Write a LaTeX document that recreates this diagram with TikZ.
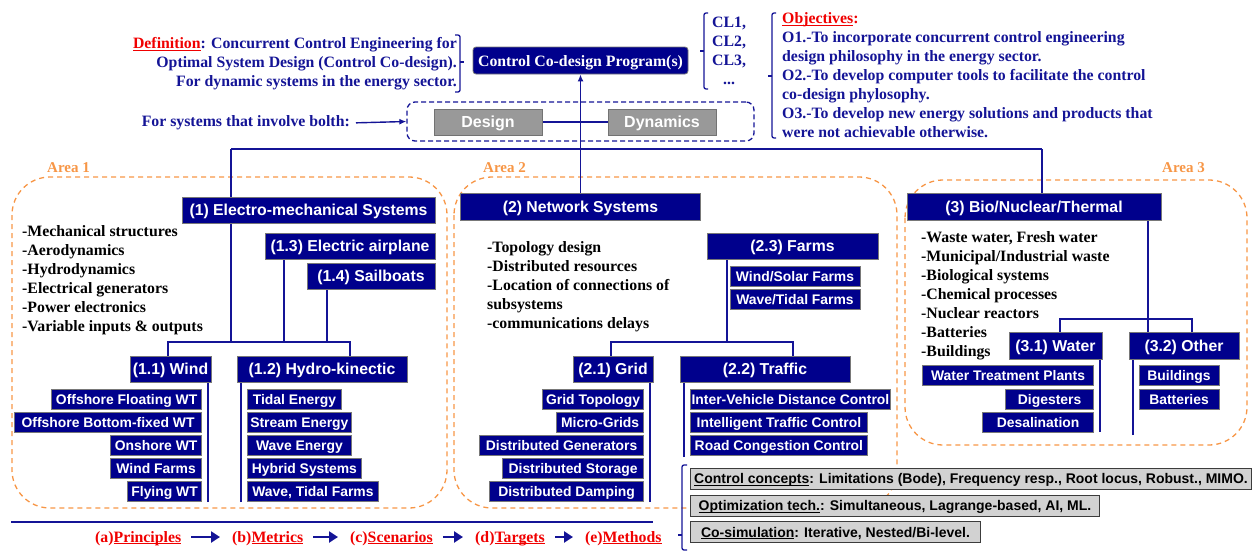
\documentclass[tikz,border=0pt]{standalone}
\usepackage{fontspec}
\setmainfont{Liberation Serif}
\setsansfont{Liberation Sans}
\usetikzlibrary{arrows.meta}
\pgfdeclarelayer{background}
\pgfsetlayers{background,main}

\definecolor{navyfill}{RGB}{0,0,140}
\definecolor{navyline}{RGB}{20,20,150}
\definecolor{areaorange}{RGB}{247,150,70}
\definecolor{defred}{RGB}{240,0,0}
\definecolor{boxedge}{RGB}{120,120,120}
\definecolor{designfill}{RGB}{153,153,153}
\definecolor{designedge}{RGB}{115,115,115}
\definecolor{infofill}{RGB}{210,210,210}
\definecolor{infoedge}{RGB}{60,60,60}

% underline set close to the baseline, crossing descenders
\newcommand{\keyword}[1]{\underline{\smash{#1}}}

\begin{document}
\begin{tikzpicture}[x=1pt,y=-1pt,
  conn/.style={draw=navyline, line width=1.4pt},
  hdr/.style={draw=boxedge, line width=0.8pt, fill=navyfill, text=white,
    font=\sffamily\bfseries\fontsize{15.8}{18}\selectfont, minimum height=26, inner sep=0,
    text height=14.5pt, text depth=3.2pt},
  subbox/.style={draw=boxedge, line width=0.8pt, fill=navyfill, text=white,
    font=\sffamily\bfseries\fontsize{13.9}{16}\selectfont, minimum height=20, inner sep=0,
    text height=12.8pt, text depth=2.8pt},
  area/.style={draw=areaorange, line width=1.3pt, dash pattern=on 5pt off 4pt, rounded corners=38},
  arealabel/.style={text=areaorange, font=\bfseries\fontsize{15}{18}\selectfont, inner sep=0, anchor=west},
  serifnavy/.style={text=navyline, font=\bfseries\fontsize{15.8}{19}\selectfont, inner sep=0},
  listtext/.style={text=black, font=\bfseries\fontsize{15.8}{19}\selectfont, inner sep=0,
    align=left, anchor=north west},
  brace/.style={draw=navyline, line width=1.3pt, rounded corners=2},
  graybox/.style={draw=designedge, line width=0.8pt, fill=designfill, text=white,
    font=\sffamily\bfseries\fontsize{16}{18}\selectfont, minimum height=26, inner sep=0,
    text height=14.7pt, text depth=3.2pt},
  infobox/.style={draw=infoedge, line width=1pt, fill=infofill, text=black,
    font=\sffamily\bfseries\fontsize{14}{16}\selectfont, minimum height=21, inner sep=0, anchor=west,
    text height=12.9pt, text depth=2.8pt},
  flow/.style={draw=navyline, line width=2.6pt, -{Triangle[length=9pt,width=11pt]},
    shorten <=10pt, shorten >=12pt},
  steptext/.style={text=defred, font=\bfseries\fontsize{15.8}{19}\selectfont, inner sep=0, anchor=base west}
]
\useasboundingbox (0,0) rectangle (1255,552);

% ---------- heading ----------
\node[hdr, rounded corners=3, font=\bfseries\fontsize{15.8}{18}\selectfont,
      minimum width=215, minimum height=27] (prog) at (580.5,60.5) {Control Co-design Program(s)};

\node[serifnavy, align=right, anchor=north east] (defn) at (457,37)
  {\textcolor{defred}{\keyword{Definition}}: Concurrent Control Engineering for\\
   Optimal System Design (Control Co-design).\\
   For dynamic systems in the energy sector.};
\draw[brace] (455,35) -- (460,35) -- (460,92) -- (455,92);
\draw[brace] (460,62) -- (464,62);

\node[serifnavy, align=center, anchor=north west] (cl) at (712,17) {CL1,\\CL2,\\CL3,\\...};
\draw[brace] (708,13) -- (704,13) -- (704,89) -- (708,89);
\draw[brace] (704,51) -- (700,51);

\node[serifnavy, align=left, anchor=north west] (obj) at (782,16)
  {\textcolor{defred}{\keyword{Objectives}:}\\
   O1.-To incorporate concurrent control engineering\\
   design philosophy in the energy sector.\\
   O2.-To develop computer tools to facilitate the control\\
   co-design phylosophy.\\
   O3.-To develop new energy solutions and products that\\
   were not achievable otherwise.};
\draw[brace] (776,13) -- (772,13) -- (772,138) -- (776,138);
\draw[brace] (772,76) -- (768,76);

% ---------- design & dynamics ----------
\node[draw=navyline, line width=1.3pt, dash pattern=on 5pt off 3pt, rounded corners=8,
      minimum width=347, minimum height=39, inner sep=0] (both) at (580.5,121.5) {};
\node[graybox, minimum width=108] (design) at (488,122) {Design};
\node[graybox, minimum width=108] (dyn) at (662,122) {Dynamics};
\node[serifnavy, anchor=east] (forsys) at (350,123) {For systems that involve bolth:};

% ---------- area labels ----------
\node[arealabel] (a1) at (47,168) {Area 1};
\node[arealabel] (a2) at (483,168) {Area 2};
\node[arealabel] (a3) at (1162,168) {Area 3};

% ---------- area 1 ----------
\node[hdr, minimum width=253] (b1) at (308.5,210) {(1) Electro-mechanical Systems};
\node[hdr, minimum width=170] (b13) at (350,246) {(1.3) Electric airplane};
\node[hdr, minimum width=128] (b14) at (371,276) {(1.4) Sailboats};
\node[hdr, minimum width=81] (b11) at (170.5,369) {(1.1) Wind};
\node[hdr, minimum width=170] (b12) at (322,369) {(1.2) Hydro-kinectic};

\node[listtext] (l1) at (22,225) {-Mechanical structures\\-Aerodynamics\\-Hydrodynamics\\
  -Electrical generators\\-Power electronics\\-Variable inputs \& outputs};

\node[subbox, anchor=east, minimum width=150] (w1) at (202,399) {Offshore Floating WT};
\node[subbox, anchor=east, minimum width=187] (w2) at (202,422) {Offshore Bottom-fixed WT};
\node[subbox, anchor=east, minimum width=91] (w3) at (202,445.5) {Onshore WT};
\node[subbox, anchor=east, minimum width=91] (w4) at (202,468.5) {Wind Farms};
\node[subbox, anchor=east, minimum width=74] (w5) at (202,491.5) {Flying WT};

\node[subbox, anchor=west, minimum width=94] (h1) at (247,399) {Tidal Energy};
\node[subbox, anchor=west, minimum width=104] (h2) at (247,422) {Stream Energy};
\node[subbox, anchor=west, minimum width=104] (h3) at (247,445.5) {Wave Energy};
\node[subbox, anchor=west, minimum width=114] (h4) at (247,468.5) {Hybrid Systems};
\node[subbox, anchor=west, minimum width=131] (h5) at (247,491.5) {Wave, Tidal Farms};

% ---------- area 2 ----------
\node[hdr, minimum width=240, minimum height=27] (b2) at (580.5,206.5) {(2) Network Systems};
\node[hdr, minimum width=171] (b23) at (792.5,246) {(2.3) Farms};
\node[hdr, minimum width=80] (b21) at (613,369) {(2.1) Grid};
\node[hdr, minimum width=170] (b22) at (765,369) {(2.2) Traffic};

\node[listtext] (l2) at (487,241) {-Topology design\\-Distributed resources\\
  -Location of connections of\\subsystems\\-communications delays};

\node[subbox, minimum width=130] (f1) at (795,276) {Wind/Solar Farms};
\node[subbox, minimum width=130] (f2) at (795,299) {Wave/Tidal Farms};

\node[subbox, anchor=east, minimum width=101] (g1) at (644,399) {Grid Topology};
\node[subbox, anchor=east, minimum width=87] (g2) at (644,422) {Micro-Grids};
\node[subbox, anchor=east, minimum width=164] (g3) at (644,445.5) {Distributed Generators};
\node[subbox, anchor=east, minimum width=141] (g4) at (644,468.5) {Distributed Storage};
\node[subbox, anchor=east, minimum width=154] (g5) at (644,491.5) {Distributed Damping};

\node[subbox, anchor=west, minimum width=200] (r1) at (690,399) {Inter-Vehicle Distance Control};
\node[subbox, anchor=west, minimum width=177] (r2) at (690,422) {Intelligent Traffic Control};
\node[subbox, anchor=west, minimum width=177] (r3) at (690,445.5) {Road Congestion Control};

% ---------- area 3 ----------
\node[hdr, minimum width=254, minimum height=27] (b3) at (1034,206.5) {(3) Bio/Nuclear/Thermal};
\node[hdr, minimum width=93, minimum height=27] (b31) at (1055.5,345.5) {(3.1) Water};
\node[hdr, minimum width=110, minimum height=27] (b32) at (1184,345.5) {(3.2) Other};

\node[listtext] (l3) at (921,231) {-Waste water, Fresh water\\-Municipal/Industrial waste\\
  -Biological systems\\-Chemical processes\\-Nuclear reactors\\-Batteries\\-Buildings};

\node[subbox, anchor=east, minimum width=171] (wa1) at (1094,375.5) {Water Treatment Plants};
\node[subbox, anchor=east, minimum width=88] (wa2) at (1094,399) {Digesters};
\node[subbox, anchor=east, minimum width=111] (wa3) at (1094,422) {Desalination};
\node[subbox, minimum width=80] (o1) at (1179,375.5) {Buildings};
\node[subbox, minimum width=80] (o2) at (1179,399) {Batteries};

% ---------- methods ----------
\node[infobox, minimum width=561] (cc) at (690,478.5)
  {\keyword{Control concepts}: Limitations (Bode), Frequency resp., Root locus, Robust., MIMO.};
\node[infobox, minimum width=409] (opt) at (690,505.5)
  {\keyword{Optimization tech.}: Simultaneous, Lagrange-based, AI, ML.};
\node[infobox, minimum width=290] (cosim) at (690,532)
  {\keyword{Co-simulation}: Iterative, Nested/Bi-level.};
\draw[brace] (687,465) -- (682,465) -- (682,550) -- (687,550);
\draw[brace] (682,535) -- (678,535);

% ---------- process steps ----------
\node[steptext] (pa) at (95,542) {(a)\keyword{Principles}};
\node[steptext] (pb) at (232,542) {(b)\keyword{Metrics}};
\node[steptext] (pc) at (350,542) {(c)\keyword{Scenarios}};
\node[steptext] (pd) at (475,542) {(d)\keyword{Targets}};
\node[steptext] (pe) at (585,542) {(e)\keyword{Methods}};
\draw[flow] ([yshift=5pt]pa.base east) -- ([yshift=5pt]pb.base west);
\draw[flow] ([yshift=5pt]pb.base east) -- ([yshift=5pt]pc.base west);
\draw[flow] ([yshift=5pt]pc.base east) -- ([yshift=5pt]pd.base west);
\draw[flow] ([yshift=5pt]pd.base east) -- ([yshift=5pt]pe.base west);

% ---------- frames and connectors ----------
\begin{pgfonlayer}{background}
  \draw[area] (12,177) rectangle (447,508);
  \draw[area] (454,177) rectangle (897,508);
  \draw[area] (905,180) rectangle (1247,445);

  \coordinate (sepL) at (11,522);
  \coordinate (sepR) at (653,522);
  \draw[navyline, line width=2pt] (sepL) -- (sepR);

  \draw[conn, -{Latex[length=7pt,width=6pt]}, shorten <=6pt] (forsys.east) -- (both.west);
  \draw[conn] (design) -- (dyn);
  \draw[conn, -{Latex[length=7pt,width=6pt]}] (b2.north) -- (prog.south);

  % bus
  \coordinate (busL) at (231,149);
  \coordinate (busR) at (1042,149);
  \draw[conn] (busL) -- (busR);

  % area 1 tree
  \coordinate (j1) at (231,342);
  \coordinate (j1L) at (168,342);
  \coordinate (j1R) at (350,342);
  \coordinate (t13) at (284,342);
  \coordinate (t14) at (327,342);
  \coordinate (e11) at (208,502);
  \coordinate (e12) at (241,502);
  \draw[conn] (busL) -- (j1);
  \draw[conn] (j1L |- b11.north) -- (j1L) -- (j1R) -- (j1R |- b12.north);
  \draw[conn] (t13) -- (t13 |- b13.south);
  \draw[conn] (t14) -- (t14 |- b14.south);
  \draw[conn] (e11) -- (e11 |- b11.south);
  \draw[conn] (e12) -- (e12 |- b12.south);

  % area 2 tree
  \coordinate (j2) at (727,342);
  \coordinate (j2L) at (611,342);
  \coordinate (j2R) at (793,342);
  \coordinate (e21) at (650,502);
  \coordinate (e22) at (684,457);
  \draw[conn] (j2) -- (j2 |- b23.south);
  \draw[conn] (j2L |- b21.north) -- (j2L) -- (j2R) -- (j2R |- b22.north);
  \draw[conn] (e21) -- (e21 |- b21.south);
  \draw[conn] (e22) -- (e22 |- b22.south);

  % area 3 tree
  \coordinate (j3) at (1148,319);
  \coordinate (j3L) at (1060,319);
  \coordinate (j3R) at (1192,319);
  \coordinate (e31) at (1100,432);
  \coordinate (e32) at (1133,435);
  \draw[conn] (busR) -- (busR |- b3.north);
  \draw[conn] (j3 |- b3.south) -- (j3 |- b32.north);
  \draw[conn] (j3L |- b31.north) -- (j3L) -- (j3R) -- (j3R |- b32.north);
  \draw[conn] (e31) -- (e31 |- b31.south);
  \draw[conn] (e32) -- (e32 |- b32.south);
\end{pgfonlayer}
\end{tikzpicture}
\end{document}
